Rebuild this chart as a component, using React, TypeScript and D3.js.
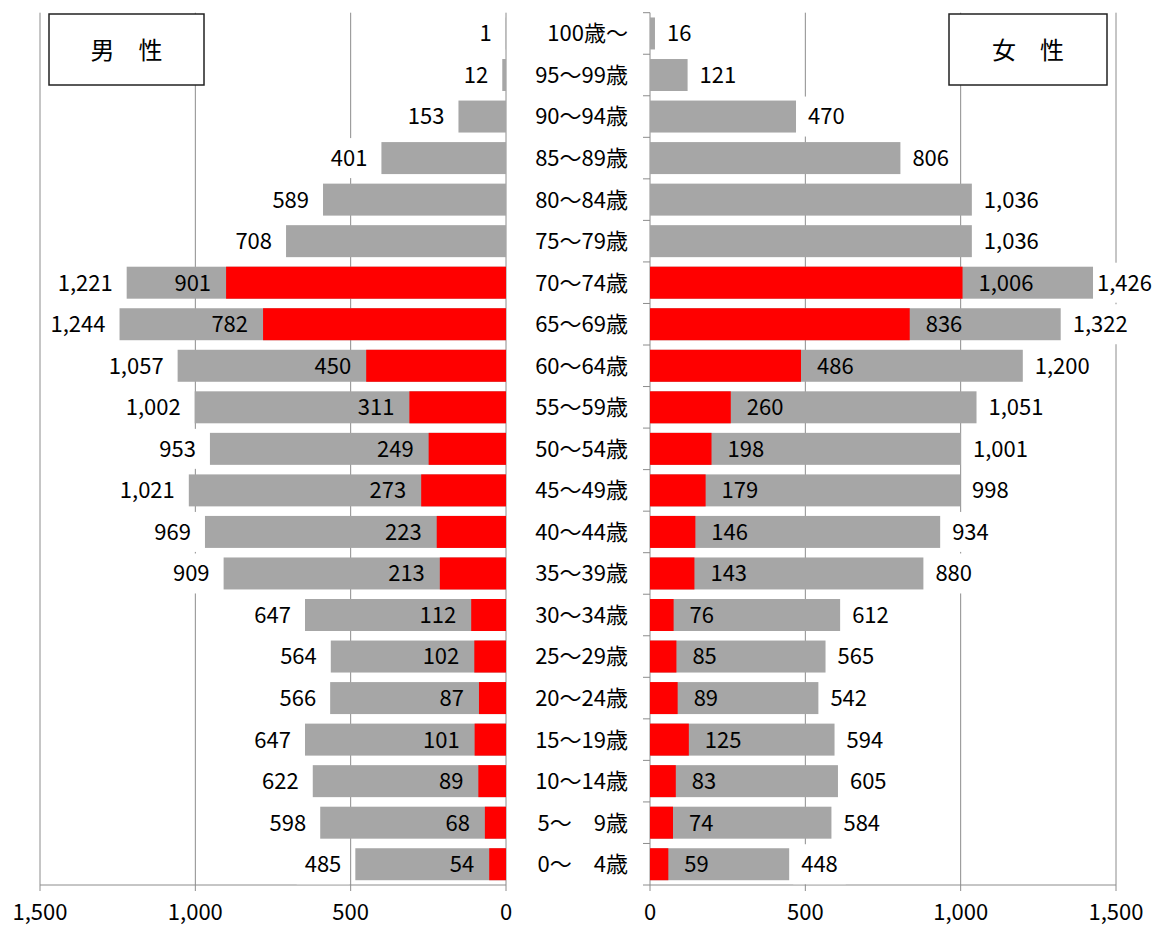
import React, { useEffect, useRef } from 'react';
import * as d3 from 'd3';

const ageGroups = [
  '100歳〜', '95〜99歳', '90〜94歳', '85〜89歳', '80〜84歳', '75〜79歳', '70〜74歳',
  '65〜69歳', '60〜64歳', '55〜59歳', '50〜54歳', '45〜49歳', '40〜44歳', '35〜39歳',
  '30〜34歳', '25〜29歳', '20〜24歳', '15〜19歳', '10〜14歳', '5〜　9歳', '0〜　4歳',
];
const maleTotal = [1, 12, 153, 401, 589, 708, 1221, 1244, 1057, 1002, 953, 1021, 969, 909, 647, 564, 566, 647, 622, 598, 485];
const maleHighlight: (number | null)[] = [null, null, null, null, null, null, 901, 782, 450, 311, 249, 273, 223, 213, 112, 102, 87, 101, 89, 68, 54];
const femaleTotal = [16, 121, 470, 806, 1036, 1036, 1426, 1322, 1200, 1051, 1001, 998, 934, 880, 612, 565, 542, 594, 605, 584, 448];
const femaleHighlight: (number | null)[] = [null, null, null, null, null, null, 1006, 836, 486, 260, 198, 179, 146, 143, 76, 85, 89, 125, 83, 74, 59];
const axisTicks = [0, 500, 1000, 1500];
const legendMale = '男　性';
const legendFemale = '女　性';

const FONT = '"Noto Sans CJK JP", "Noto Sans", sans-serif';

export default function App() {
  const ref = useRef<SVGSVGElement>(null);

  useEffect(() => {
    const svg = d3.select(ref.current);
    svg.selectAll('*').remove();

    const W = 1156;
    const top = 12.7;
    const bottom = 885;
    const y = d3.scaleBand<string>().domain(ageGroups).range([top, bottom]).paddingInner(0.23).paddingOuter(0.115);
    const xL = d3.scaleLinear().domain([0, 1500]).range([506, 40]);
    const xR = d3.scaleLinear().domain([0, 1500]).range([650, 1116]);
    const fmt = d3.format(',');
    const gridColor = '#8c8c8c';
    const barGray = '#a6a6a6';
    const red = '#ff0000';
    const fs = 22;
    const cy = (i: number) => (y(ageGroups[i]) as number) + y.bandwidth() / 2;

    const g = svg.append('g').attr('font-family', FONT);

    // grid lines and axes
    const gridVals = axisTicks.filter((t) => t > 0);
    [xL, xR].forEach((sc) => {
      g.append('g')
        .selectAll('line')
        .data(gridVals)
        .join('line')
        .attr('x1', (d) => sc(d))
        .attr('x2', (d) => sc(d))
        .attr('y1', top)
        .attr('y2', bottom + 6)
        .attr('stroke', gridColor)
        .attr('stroke-width', 1);
      g.append('line')
        .attr('x1', sc(0)).attr('x2', sc(1500))
        .attr('y1', bottom).attr('y2', bottom)
        .attr('stroke', gridColor).attr('stroke-width', 1);
      g.append('line')
        .attr('x1', sc(0)).attr('x2', sc(0))
        .attr('y1', top).attr('y2', bottom + 6)
        .attr('stroke', gridColor).attr('stroke-width', 1);
    });
    // right axis category ticks
    const boundaries = d3.range(ageGroups.length + 1).map((i) => top + i * y.step());
    g.append('g')
      .selectAll('line')
      .data(boundaries)
      .join('line')
      .attr('x1', xR(0) - 7)
      .attr('x2', xR(0))
      .attr('y1', (d) => d)
      .attr('y2', (d) => d)
      .attr('stroke', gridColor);

    // outer labels with white boxes
    const outer = g.append('g').attr('font-size', fs).attr('fill', '#000');
    const addBoxedLabel = (x: number, yy: number, txt: string, anchor: string) => {
      const grp = outer.append('g');
      const rect = grp.append('rect').attr('fill', '#fff');
      const t = grp.append('text')
        .attr('x', x).attr('y', yy).attr('dy', '0.36em')
        .attr('text-anchor', anchor).text(txt);
      let bb = (t.node() as SVGTextElement).getBBox();
      if (bb.x + bb.width > W - 4) {
        t.attr('x', x - (bb.x + bb.width - (W - 4)));
        bb = (t.node() as SVGTextElement).getBBox();
      }
      rect.attr('x', bb.x - 8).attr('width', bb.width + 16).attr('y', yy - 20).attr('height', 40);
    };
    maleTotal.forEach((v, i) => addBoxedLabel(xL(v) - 14, cy(i), fmt(v), 'end'));
    femaleTotal.forEach((v, i) => addBoxedLabel(xR(v) + 12, cy(i), fmt(v), 'start'));

    // bars
    const bars = g.append('g');
    bars.selectAll('rect.mt')
      .data(maleTotal)
      .join('rect')
      .attr('class', 'mt')
      .attr('x', (d) => xL(d))
      .attr('width', (d) => xL(0) - xL(d))
      .attr('y', (_, i) => y(ageGroups[i]) as number)
      .attr('height', y.bandwidth())
      .attr('fill', barGray);
    bars.selectAll('rect.ft')
      .data(femaleTotal)
      .join('rect')
      .attr('class', 'ft')
      .attr('x', xR(0))
      .attr('width', (d) => xR(d) - xR(0))
      .attr('y', (_, i) => y(ageGroups[i]) as number)
      .attr('height', y.bandwidth())
      .attr('fill', barGray);
    const mh = maleHighlight.map((v, i) => ({ v, i })).filter((d) => d.v !== null) as { v: number; i: number }[];
    const fh = femaleHighlight.map((v, i) => ({ v, i })).filter((d) => d.v !== null) as { v: number; i: number }[];
    bars.selectAll('rect.mh')
      .data(mh)
      .join('rect')
      .attr('class', 'mh')
      .attr('x', (d) => xL(d.v))
      .attr('width', (d) => xL(0) - xL(d.v))
      .attr('y', (d) => y(ageGroups[d.i]) as number)
      .attr('height', y.bandwidth())
      .attr('fill', red);
    bars.selectAll('rect.fh')
      .data(fh)
      .join('rect')
      .attr('class', 'fh')
      .attr('x', xR(0))
      .attr('width', (d) => xR(d.v) - xR(0))
      .attr('y', (d) => y(ageGroups[d.i]) as number)
      .attr('height', y.bandwidth())
      .attr('fill', red);

    // inner labels
    const inner = g.append('g').attr('font-size', fs).attr('fill', '#000');
    inner.selectAll('text.ml')
      .data(mh)
      .join('text')
      .attr('x', (d) => xL(d.v) - 15)
      .attr('y', (d) => cy(d.i))
      .attr('dy', '0.36em')
      .attr('text-anchor', 'end')
      .text((d) => fmt(d.v));
    inner.selectAll('text.fl')
      .data(fh)
      .join('text')
      .attr('x', (d) => xR(d.v) + 16)
      .attr('y', (d) => cy(d.i))
      .attr('dy', '0.36em')
      .attr('text-anchor', 'start')
      .text((d) => fmt(d.v));

    // category labels
    g.append('g')
      .attr('font-size', fs)
      .selectAll('text')
      .data(ageGroups)
      .join('text')
      .attr('x', 628)
      .attr('y', (_, i) => cy(i))
      .attr('dy', '0.36em')
      .attr('text-anchor', 'end')
      .text((d) => d);

    // axis tick labels
    [xL, xR].forEach((sc) => {
      g.append('g')
        .attr('font-size', fs)
        .selectAll('text')
        .data(axisTicks)
        .join('text')
        .attr('x', (d) => sc(d))
        .attr('y', 912)
        .attr('dy', '0.36em')
        .attr('text-anchor', 'middle')
        .text((d) => fmt(d));
    });

    // legend boxes
    const legends = [
      { x: 49, w: 155, label: legendMale },
      { x: 949, w: 158, label: legendFemale },
    ];
    legends.forEach((l) => {
      g.append('rect')
        .attr('x', l.x).attr('y', 14).attr('width', l.w).attr('height', 71)
        .attr('fill', '#fff').attr('stroke', '#222').attr('stroke-width', 1.5);
      g.append('text')
        .attr('x', l.x + l.w / 2).attr('y', 50).attr('dy', '0.36em')
        .attr('text-anchor', 'middle').attr('font-size', 24)
        .text(l.label);
    });
  }, []);

  return (
    <svg
      ref={ref}
      width={1156}
      height={925}
      style={{ position: 'absolute', left: 0, top: 0, background: '#fff' }}
    />
  );
}
